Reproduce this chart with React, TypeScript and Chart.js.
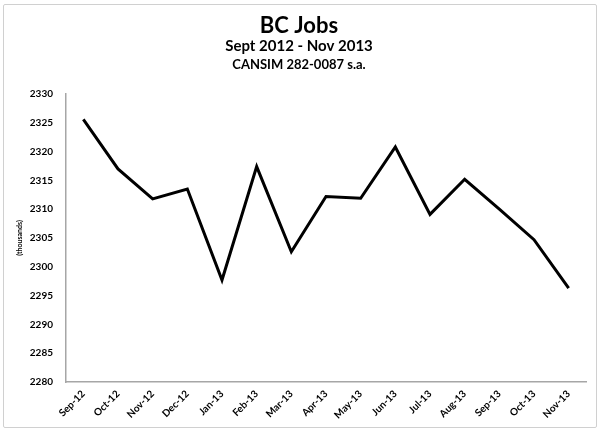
import React, { useEffect, useRef } from "react";
import { Chart, registerables } from "chart.js";

Chart.register(...registerables);

const months = ["Sep-12","Oct-12","Nov-12","Dec-12","Jan-13","Feb-13","Mar-13","Apr-13","May-13","Jun-13","Jul-13","Aug-13","Sep-13","Oct-13","Nov-13"];
const jobs = [2325.6, 2317.0, 2311.8, 2313.5, 2297.7, 2317.4, 2302.6, 2312.2, 2311.9, 2320.8, 2309.1, 2315.2, 2310.0, 2304.7, 2296.3];
const titleLines = ["BC Jobs", "Sept 2012 - Nov 2013", "CANSIM 282-0087 s.a."];
const yAxisTitle = "(thousands)";
const yMin = 2280;
const yMax = 2330;
const yStep = 5;

const FONT = "Lato, 'Open Sans', sans-serif";

const titlePlugin = {
  id: "threeTitles",
  afterDraw(chart: any) {
    const ctx = chart.ctx;
    ctx.save();
    ctx.fillStyle = "#000";
    ctx.textAlign = "center";
    ctx.textBaseline = "middle";
    const cx = 299;
    ctx.font = `bold 22px ${FONT}`;
    ctx.fillText(titleLines[0], cx, 26);
    ctx.font = `bold 15px ${FONT}`;
    ctx.fillText(titleLines[1], cx, 46);
    ctx.font = `bold 13px ${FONT}`;
    ctx.fillText(titleLines[2], cx, 65);
    ctx.restore();
  },
};

export default function App() {
  const ref = useRef<HTMLCanvasElement | null>(null);
  useEffect(() => {
    if (!ref.current) return;
    const chart = new Chart(ref.current, {
      type: "line",
      data: {
        labels: months,
        datasets: [
          {
            data: jobs,
            borderColor: "#000",
            borderWidth: 3,
            pointRadius: 0,
            tension: 0,
            fill: false,
          },
        ],
      },
      options: {
        animation: false,
        responsive: false,
        maintainAspectRatio: false,
        layout: { padding: { top: 94, right: 14, left: 0, bottom: 0 } },
        plugins: {
          legend: { display: false },
          title: { display: false },
          tooltip: { enabled: false },
        },
        scales: {
          x: {
            offset: true,
            grid: { display: false, drawTicks: false },
            border: { display: true, color: "#a6a6a6", width: 1.5 },
            ticks: {
              autoSkip: false,
              minRotation: 45,
              maxRotation: 45,
              padding: 6,
              color: "#000",
              font: { family: FONT, size: 10, weight: "bold" },
            },
            afterFit(scale: any) {
              scale.height = 56;
            },
          },
          y: {
            min: yMin,
            max: yMax,
            grid: { display: false, drawTicks: false },
            border: { display: true, color: "#a6a6a6", width: 1.5 },
            ticks: {
              stepSize: yStep,
              padding: 13,
              color: "#000",
              font: { family: FONT, size: 10, weight: "bold" },
              callback: (v: any) => String(v),
            },
            title: {
              display: true,
              text: yAxisTitle,
              color: "#000",
              font: { family: FONT, size: 7, weight: "bold" },
              padding: { top: 16, bottom: 0 },
            },
            afterFit(scale: any) {
              scale.width = 66;
            },
          },
        },
      },
      plugins: [titlePlugin],
    });
    return () => chart.destroy();
  }, []);

  return (
    <div style={{ position: "fixed", left: 0, top: 0, width: 600, height: 438, background: "#fff" }}>
      <canvas ref={ref} width={600} height={438} style={{ position: "absolute", left: 0, top: 0, width: 600, height: 438 }} />
      <div
        style={{
          position: "absolute",
          left: 3,
          top: 4,
          width: 592,
          height: 422,
          border: "1px solid #d0d0d0",
          borderRadius: 2,
          pointerEvents: "none",
        }}
      />
    </div>
  );
}
